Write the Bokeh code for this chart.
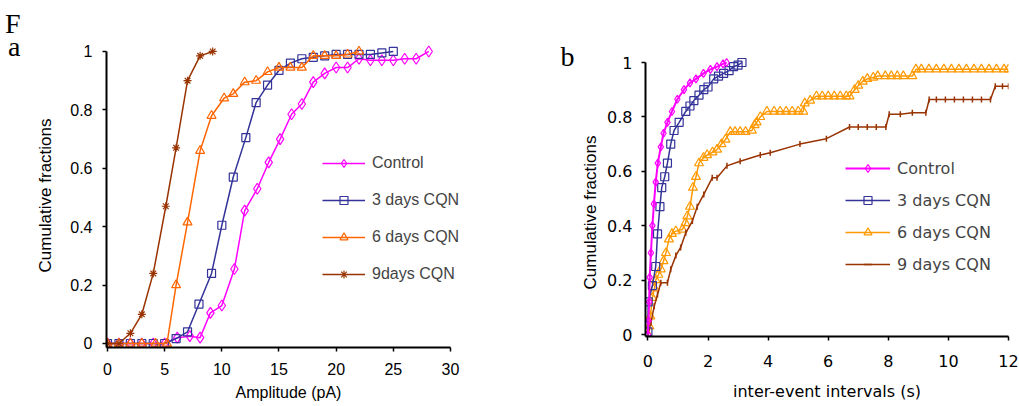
from bokeh.plotting import figure
from bokeh.models import (Range1d, FixedTicker, Legend, LegendItem, NumeralTickFormatter,
                          LinearAxis)
from bokeh.layouts import row
from bokeh.embed import file_html
from bokeh.resources import INLINE

# ---------------- Panel a : amplitude ----------------
a_xticks = [0, 5, 10, 15, 20, 25, 30]
a_yticks = [0, 0.2, 0.4, 0.6, 0.8, 1.0]

a_ctrl_x = [0, 1, 2, 3, 4, 5, 6.1, 7.2, 8.1, 9.0, 10.0, 11.1, 12.0, 13.1, 14.1, 15.1, 16.1, 17.0,
            18.0, 19.0, 20.0, 21.0, 22.0, 23.0, 24.0, 25.0, 26.0, 27.0, 28.1]
a_ctrl_y = [0, 0, 0, 0, 0, 0, 0.02, 0.025, 0.02, 0.105, 0.13, 0.255, 0.455, 0.53, 0.62, 0.70, 0.785, 0.82,
            0.895, 0.925, 0.945, 0.945, 0.975, 0.97, 0.97, 0.97, 0.975, 0.975, 1.0]

a_3d_x = [0, 1, 2, 3, 4, 5, 6.0, 7.0, 8.0, 9.1, 10.0, 11.0, 12.1, 13.0, 14.0, 15.0, 16.0, 17.0,
          18.0, 19.0, 20.0, 21.0, 22.0, 23.0, 24.0, 25.0]
a_3d_y = [0, 0, 0, 0, 0, 0, 0.017, 0.04, 0.135, 0.24, 0.405, 0.57, 0.705, 0.825, 0.885, 0.935, 0.96, 0.975,
          0.98, 0.985, 0.99, 0.99, 0.99, 0.99, 0.995, 1.0]

a_6d_x = [0, 1, 2, 3, 4.2, 5.2, 6.0, 7.0, 8.1, 9.1, 10.2, 11.0, 12.0, 13.0, 14.0, 15.0, 16.0, 17.0,
          18.0, 19.0, 20.0, 21.0, 22.0]
a_6d_y = [0, 0, 0, 0, 0, 0, 0.20, 0.415, 0.66, 0.78, 0.84, 0.855, 0.895, 0.90, 0.93, 0.945, 0.945, 0.945,
          0.985, 0.985, 0.985, 0.99, 1.0]

a_9d_x = [0, 1, 2, 3, 4, 5.1, 6.0, 7.0, 8.1, 9.2]
a_9d_y = [0, 0, 0.035, 0.10, 0.24, 0.47, 0.67, 0.90, 0.985, 1.0]

a_labels = ["Control", "3 days CQN", "6 days CQN", "9days CQN"]

# ---------------- Panel b : inter-event intervals ----------------
b_xticks = [0, 2, 4, 6, 8, 10, 12]
b_yticks = [0, 0.2, 0.4, 0.6, 0.8, 1.0]

b_ctrl_x = [0.0, 0.02, 0.04, 0.06, 0.10, 0.15, 0.20, 0.26, 0.33, 0.43, 0.52, 0.65, 0.80, 0.98,
            1.2, 1.4, 1.6, 1.85, 2.08, 2.3, 2.5, 2.62]
b_ctrl_y = [0.0, 0.05, 0.12, 0.21, 0.30, 0.40, 0.48, 0.56, 0.63, 0.69, 0.74, 0.78, 0.82, 0.865,
            0.90, 0.925, 0.94, 0.96, 0.975, 0.985, 0.995, 1.0]

b_3d_x = [0.0, 0.01, 0.15, 0.26, 0.32, 0.40, 0.46, 0.56, 0.65, 0.76, 0.87, 1.04, 1.26, 1.4, 1.53,
          1.7, 1.86, 2.0, 2.19, 2.35, 2.52, 2.7, 2.85, 3.0, 3.13]
b_3d_y = [0.01, 0.12, 0.18, 0.25, 0.37, 0.47, 0.54, 0.58, 0.63, 0.70, 0.75, 0.78, 0.82, 0.84, 0.86,
          0.88, 0.90, 0.91, 0.94, 0.95, 0.96, 0.97, 0.985, 0.99, 1.0]

b_6d_x = [0.0, 0.05, 0.08, 0.15, 0.22, 0.26, 0.35, 0.43, 0.52, 0.60, 0.70, 0.80, 0.93, 1.15, 1.25,
          1.31, 1.40, 1.50, 1.60, 1.70, 1.85, 1.97, 2.15, 2.30, 2.45, 2.58, 2.74, 2.90, 3.07, 3.25,
          3.46, 3.55, 3.62, 3.74, 3.96, 4.2, 4.4, 4.6, 4.8, 5.0, 5.17, 5.22, 5.4, 5.61, 5.8, 6.0,
          6.2, 6.4, 6.6, 6.71, 6.88, 7.0, 7.15, 7.3, 7.5, 7.65, 7.9, 8.1, 8.3, 8.5, 8.8, 8.92,
          9.1, 9.35, 9.6, 9.85, 10.1, 10.35, 10.6, 10.85, 11.1, 11.35, 11.6, 11.85, 12.0]
b_6d_y = [0.0, 0.03, 0.067, 0.135, 0.17, 0.20, 0.22, 0.24, 0.27, 0.30, 0.35, 0.37, 0.38, 0.386, 0.41,
          0.435, 0.47, 0.54, 0.58, 0.63, 0.65, 0.66, 0.67, 0.68, 0.70, 0.717, 0.745, 0.745, 0.745, 0.745,
          0.75, 0.77, 0.78, 0.80, 0.82, 0.82, 0.82, 0.82, 0.82, 0.82, 0.82, 0.85, 0.86, 0.876, 0.876, 0.876,
          0.876, 0.876, 0.876, 0.876, 0.90, 0.915, 0.93, 0.94, 0.945, 0.95, 0.95, 0.95, 0.95, 0.95, 0.95, 0.975,
          0.975, 0.975, 0.975, 0.975, 0.975, 0.975, 0.975, 0.975, 0.975, 0.975, 0.975, 0.975, 0.975]

b_9d_x = [0.0, 0.10, 0.21, 0.32, 0.43, 0.65, 0.76, 0.93, 1.09, 1.26, 1.48, 1.64, 1.86, 2.14, 2.3,
          2.63, 3.07, 3.74, 4.07, 5.06, 5.94, 6.71, 7.0, 7.3, 7.6, 7.92, 8.03, 8.4, 8.8, 9.25, 9.36,
          9.6, 9.9, 10.2, 10.5, 10.8, 11.1, 11.4, 11.56, 11.8, 12.0]
b_9d_y = [0.0, 0.043, 0.104, 0.147, 0.19, 0.19, 0.24, 0.29, 0.32, 0.374, 0.417, 0.47, 0.515, 0.576, 0.576,
          0.62, 0.637, 0.66, 0.668, 0.70, 0.72, 0.763, 0.763, 0.763, 0.763, 0.763, 0.81, 0.81, 0.815, 0.815, 0.864,
          0.864, 0.864, 0.864, 0.864, 0.864, 0.864, 0.864, 0.913, 0.913, 0.913]

b_labels = ["Control", "3 days CQN", "6 days CQN", "9 days CQN"]

# side texts (panel letters and y titles)
a_ytitle = "Cumulative fractions"
b_ytitle = "Cumulative fractions"
a_letters = ["F", "a"]
b_letters = ["b"]

MAGENTA = "#FF00FF"
NAVY = "#333399"
ORANGE_A = "#FF6600"
ORANGE_B = "#FF9900"
BROWN = "#993300"


def style_axes(p, font, size, xb, yb):
    for ax in (p.xaxis[0], p.yaxis[0]):
        ax.axis_line_width = 2
        ax.axis_line_color = "black"
        ax.major_tick_line_width = 1.5
        ax.major_tick_in = 0
        ax.major_tick_out = 4
        ax.minor_tick_line_color = None
        ax.minor_tick_in = 0
        ax.minor_tick_out = 0
        ax.major_label_text_font = font
        ax.major_label_text_font_size = size
        ax.major_label_text_color = "black"
        ax.axis_label_text_font_style = "normal"
        ax.axis_label_text_color = "black"
    p.xaxis[0].bounds = xb
    p.yaxis[0].bounds = yb
    p.grid.visible = False
    p.outline_line_color = None
    try:
        p.frame_align = False
    except Exception:
        pass


def text_axis(ticks, labels, font, size, standoff, orientation="horizontal"):
    ax = LinearAxis(y_range_name="pix", ticker=FixedTicker(ticks=ticks),
                    major_label_overrides={t: s for t, s in zip(ticks, labels)},
                    major_label_orientation=orientation,
                    axis_line_color=None, major_tick_line_color=None, minor_tick_line_color=None,
                    major_tick_in=0, major_tick_out=0, minor_tick_in=0, minor_tick_out=0,
                    major_label_standoff=standoff,
                    major_label_text_font=font, major_label_text_font_size=size,
                    major_label_text_color="black")
    return ax


# ---------------- figure a ----------------
pa = figure(width=520, height=405, x_range=Range1d(-0.09, 31.755), y_range=Range1d(-0.0137, 1.154),
            output_backend="svg", toolbar_location=None,
            min_border_left=106, min_border_right=50, min_border_top=6, min_border_bottom=58)
style_axes(pa, "Liberation Sans", "16px", (-0.09, 30), (-0.0137, 1.0))
pa.xaxis.ticker = FixedTicker(ticks=a_xticks)
pa.yaxis.ticker = FixedTicker(ticks=a_yticks)
pa.yaxis.formatter = NumeralTickFormatter(format="0.[0]")
pa.xaxis.axis_label = "Amplitude (pA)"
pa.xaxis.axis_label_text_font = "Liberation Sans"
pa.xaxis.axis_label_text_font_size = "16px"
pa.xaxis.major_label_standoff = 11
pa.xaxis.axis_label_standoff = 6
pa.yaxis.major_label_standoff = 10

pa.extra_y_ranges = {"pix": Range1d(start=347, end=6)}
pa.add_layout(text_axis([195], [a_ytitle], "Liberation Sans", "17px", 13, "vertical"), "left")
pa.add_layout(text_axis([23, 46], a_letters, "Liberation Serif", "28px", 12), "left")

specs_a = [
    (a_ctrl_x, a_ctrl_y, MAGENTA, "diamond", 11),
    (a_3d_x, a_3d_y, NAVY, "square", 8),
    (a_6d_x, a_6d_y, ORANGE_A, "triangle", 9),
    (a_9d_x, a_9d_y, BROWN, "asterisk", 8),
]
items_a = []
for (xs, ys, col, mk, sz), lab in zip(specs_a, a_labels):
    l = pa.line(xs, ys, line_color=col, line_width=1.5)
    s = pa.scatter(xs, ys, marker=mk, size=sz, line_color=col, fill_color=None, line_width=1.2)
    items_a.append(LegendItem(label=lab, renderers=[l, s]))

leg_a = Legend(items=items_a, location=(216, 62.7), padding=0, margin=0, spacing=17,
               glyph_width=43, glyph_height=20, label_height=20, label_standoff=7,
               label_text_font="Liberation Sans", label_text_font_size="16px",
               border_line_color=None, background_fill_alpha=0)
pa.add_layout(leg_a)

# ---------------- figure b ----------------
pb = figure(width=499, height=405, x_range=Range1d(-0.08, 12), y_range=Range1d(-0.00735, 1.2059),
            output_backend="svg", toolbar_location=None,
            min_border_left=125, min_border_right=11, min_border_top=6, min_border_bottom=69)
style_axes(pb, "DejaVu Sans", "16px", (-0.08, 12), (-0.00735, 1.0))
pb.xaxis.ticker = FixedTicker(ticks=b_xticks)
pb.yaxis.ticker = FixedTicker(ticks=b_yticks)
pb.yaxis.formatter = NumeralTickFormatter(format="0.[0]")
pb.xaxis.axis_label = "inter-event intervals (s)"
pb.xaxis.axis_label_text_font = "DejaVu Sans"
pb.xaxis.axis_label_text_font_size = "16px"
pb.xaxis.major_label_standoff = 14
pb.xaxis.axis_label_standoff = 12
pb.yaxis.major_label_standoff = 9

pb.extra_y_ranges = {"pix": Range1d(start=336, end=6)}
pb.add_layout(text_axis([212], [b_ytitle], "Liberation Sans", "17px", 5, "vertical"), "left")
pb.add_layout(text_axis([56], b_letters, "Liberation Serif", "28px", 3), "left")

specs_b = [
    (b_ctrl_x, b_ctrl_y, MAGENTA, "diamond", 8, 2.0),
    (b_3d_x, b_3d_y, NAVY, "square", 8, 1.5),
    (b_6d_x, b_6d_y, ORANGE_B, "triangle", 9, 1.5),
    (b_9d_x, b_9d_y, BROWN, "dash", 6, 1.5),
]
rend_b = {}
for idx in [2, 3, 1, 0]:
    xs, ys, col, mk, sz, lw = specs_b[idx]
    l = pb.line(xs, ys, line_color=col, line_width=lw)
    if mk == "dash":
        s = pb.scatter(xs, ys, marker=mk, size=sz, line_color=col, fill_color=None, line_width=1.5,
                       angle=1.5708)
    else:
        s = pb.scatter(xs, ys, marker=mk, size=sz, line_color=col, fill_color=None, line_width=1.2)
    rend_b[idx] = [l, s]
items_b = [LegendItem(label=b_labels[i], renderers=rend_b[i]) for i in range(4)]
leg_b = Legend(items=items_b, location=(200, 62), padding=0, margin=0, spacing=12,
               glyph_width=45, glyph_height=20, label_height=20, label_standoff=7,
               label_text_font="DejaVu Sans", label_text_font_size="16px",
               border_line_color=None, background_fill_alpha=0)
pb.add_layout(leg_b)

layout = row(pa, pb)
open("out.html", "w").write(file_html(layout, INLINE))
